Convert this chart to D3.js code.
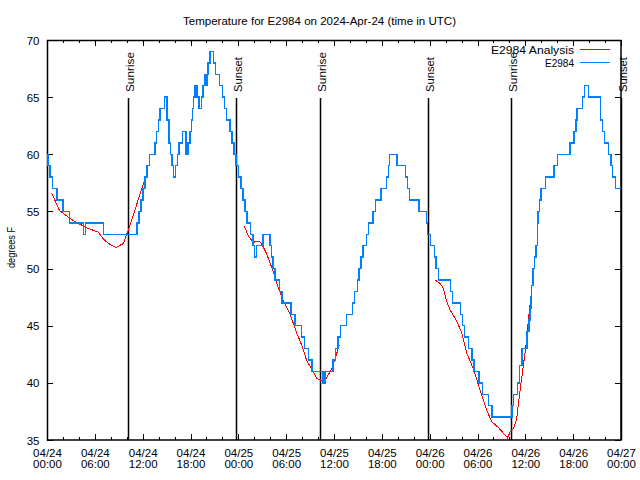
<!DOCTYPE html>
<html><head><meta charset="utf-8">
<script src="https://cdn.jsdelivr.net/npm/d3@7"></script>
<style>
body{margin:0;background:#fff}
text{font-family:"Liberation Sans",Arial,sans-serif;fill:#000}
</style>
</head><body>
<svg id="c" width="640" height="480"></svg>
<script>
// ---------- data ----------
const chartTitle = "Temperature for E2984 on 2024-Apr-24 (time in UTC)";
const yAxisLabel = "degrees F";
const seriesNames = ["E2984 Analysis", "E2984"];
const startTime = "2024-04-24T00:00:00Z";
const spanHours = 72;
const yTicks = [35, 40, 45, 50, 55, 60, 65, 70];

// observed temperature (step data), hours since start
const blueHours = [0,0.15,0.4,0.7,1.25,2.0,2.8,4.55,4.85,7.05,11.3,11.55,11.8,12.05,12.3,12.55,12.85,13.55,13.75,13.95,14.15,14.75,15.05,15.3,15.5,15.7,15.9,16.15,16.35,16.55,17.0,17.45,17.7,17.95,18.1,18.25,18.4,18.55,18.8,19.05,19.35,19.55,19.8,19.95,20.05,20.2,20.45,20.85,21.1,21.6,22.05,22.3,22.5,22.95,23.2,23.45,23.7,24.0,24.35,24.6,24.85,25.1,25.55,25.85,26.05,26.3,27.1,27.95,28.15,28.35,28.6,29.15,29.5,30.6,31.1,31.9,32.3,32.8,33.25,34.6,34.85,35.85,36.2,36.5,36.8,37.6,38.3,38.6,38.95,39.15,39.4,39.65,40.05,40.35,40.9,41.2,41.9,42.55,42.8,42.95,43.9,45.0,45.25,45.45,46.65,47.6,47.75,48.1,48.6,48.8,49.1,50.65,50.85,51.85,52.1,52.4,52.85,53.3,53.55,54.2,54.6,55.4,55.8,58.35,58.55,59.05,59.25,59.6,60.2,60.45,60.6,60.7,60.8,60.95,61.15,61.35,61.5,61.6,61.75,61.95,62.5,63.6,64.0,65.6,66.1,66.35,66.5,67.2,67.45,67.9,69.4,69.7,69.9,70.4,70.75,70.95,71.3,71.95];
const blueTemps = [60,59,58,57,56,55,54,53,54,53,54,55,56,57,58,59,60,61,62,63,64,65,63,61,60,59,58,59,60,61,62,60,61,62,63,64,65,66,65,64,65,66,67,66,67,68,69,68,67,66,65,64,63,62,61,60,59,58,57,56,55,54,53,52,51,52,53,52,51,50,49,48,47,46,45,44,43,42,41,40,41,42,43,44,45,46,47,48,49,50,51,52,53,54,55,56,57,58,59,60,59,58,57,56,55,54,53,52,51,50,49,48,47,46,45,44,43,42,41,40,39,38,37,38,39,40,41.5,43,44.5,45.5,46.5,47.5,48.5,50,51,52,54,55,56,57,58,59,60,61,62,63,64,65,66,65,63,62,61,60,59,58,57,57];

// analysis (smooth) series; null separates segments
const redHours = [0.6,1.55,2.3,3.3,4.35,5.2,6.4,7.05,7.7,8.65,9.6,9.9,10.2,10.85,11.65,12.5,
  12.6,
  24.75,25.3,25.85,26.6,26.9,27.55,28.4,29.0,29.65,30.5,31.3,31.95,32.55,33.2,33.85,34.45,34.75,35.1,35.7,36.15,36.65,
  36.7,
  48.65,49.3,49.7,50.1,50.55,51.4,52.0,52.65,53.5,54.3,55.15,55.8,56.6,57.25,57.75,58.1,58.5,58.9,59.35,59.75,60.1,60.4,60.7];
const redTemps = [56.6,55.1,54.7,54.2,53.8,53.5,53.2,52.6,52.2,51.85,52.2,52.8,53.4,54.7,56.5,58.2,
  null,
  53.7,52.8,52.3,52.4,52.2,51.3,49.7,48.3,47.2,46.0,44.4,43.3,42.0,41.2,40.4,40.2,40.1,40.5,41.2,42.1,43.3,
  null,
  49.0,48.7,48.3,47.2,46.4,45.4,44.4,42.6,41.2,39.4,37.6,36.6,36.1,35.6,35.2,35.7,36.0,36.8,39.4,41.5,43.4,45.6,47.5];

const sunNames = ["Sunrise","Sunset","Sunrise","Sunset","Sunrise","Sunset"];
const sunHours = [10.2, 23.7, 34.25, 47.82, 58.2, 71.95];

// ---------- chart ----------
const L = 47, R = 621, T = 40, B = 440;
const svg = d3.select("#c");
const t0 = new Date(startTime);
const toDate = h => new Date(t0.getTime() + h * 3600e3);

const x = d3.scaleUtc().domain([t0, toDate(spanHours)]).range([L, R]);
const y = d3.scaleLinear().domain([35, 70]).range([B, T]);

const FS = "11.5px";
const crisp = s => s.attr("shape-rendering", "crispEdges");

// title
svg.append("text").attr("x", 319.5).attr("y", 25).attr("text-anchor", "middle")
  .style("font-size", FS).attr("textLength", 273).attr("lengthAdjust", "spacingAndGlyphs")
  .text(chartTitle);

// y label
svg.append("text").attr("transform", "translate(15,247.5) rotate(-90)")
  .attr("text-anchor", "middle").style("font-size", "10px")
  .attr("textLength", 41).attr("lengthAdjust", "spacingAndGlyphs").text(yAxisLabel);

// axes (ticks inward)
const majorTicks = d3.utcHour.every(6).range(t0, toDate(spanHours + 0.01));
const minorTicks = d3.utcHour.every(2).range(t0, toDate(spanHours + 0.01));
const fmtDay = d3.utcFormat("%m/%d"), fmtTime = d3.utcFormat("%H:%M");

const gxMinorB = svg.append("g").attr("transform", `translate(0,${B})`)
  .call(d3.axisBottom(x).tickValues(minorTicks).tickSize(-3).tickFormat(""));
const gxMinorT = svg.append("g").attr("transform", `translate(0,${T})`)
  .call(d3.axisTop(x).tickValues(minorTicks).tickSize(-3).tickFormat(""));
const gxB = svg.append("g").attr("transform", `translate(0,${B})`)
  .call(d3.axisBottom(x).tickValues(majorTicks).tickSize(-6).tickPadding(0).tickFormat(""));
const gxT = svg.append("g").attr("transform", `translate(0,${T})`)
  .call(d3.axisTop(x).tickValues(majorTicks).tickSize(-6).tickFormat(""));
const gyL = svg.append("g").attr("transform", `translate(${L},0)`)
  .call(d3.axisLeft(y).tickValues(yTicks).tickSize(-6).tickPadding(8).tickFormat(d3.format("d")));
const gyR = svg.append("g").attr("transform", `translate(${R},0)`)
  .call(d3.axisRight(y).tickValues(yTicks).tickSize(-6).tickFormat(""));
[gxMinorB, gxMinorT, gxB, gxT, gyL, gyR].forEach(g => {
  g.select(".domain").remove();
  g.selectAll("line").attr("stroke", "#000").attr("stroke-width", 1).call(crisp);
});
gyL.selectAll("text").style("font-size", FS).attr("fill", "#000")
  .attr("font-family", null).attr("x", -7.5).attr("dy", "0.36em");

// x tick labels (two lines)
gxB.selectAll(".tick").each(function(d) {
  const g = d3.select(this);
  g.select("text").remove();
  const t = g.append("text").attr("text-anchor", "middle").style("font-size", FS);
  t.append("tspan").attr("x", 0).attr("y", 16.7).text(fmtDay(d));
  t.append("tspan").attr("x", 0).attr("y", 28.3).text(fmtTime(d));
});

// frame
svg.append("rect").attr("x", L + 0.5).attr("y", T + 0.5).attr("width", R - L - 0.5).attr("height", B - T - 0.5)
  .attr("fill", "none").attr("stroke", "#000").attr("stroke-width", 1.5);

// sunrise / sunset markers
sunHours.forEach((h, i) => {
  const xp = Math.round(x(toDate(h))) + 0.5;
  svg.append("line").attr("x1", xp).attr("x2", xp).attr("y1", B).attr("y2", 98)
    .attr("stroke", "#000").attr("stroke-width", 1.5);
  svg.append("text").attr("transform", `translate(${xp + 5.5},92) rotate(-90)`)
    .style("font-size", FS).attr("textLength", sunNames[i] === "Sunrise" ? 40 : 35)
    .attr("lengthAdjust", "spacingAndGlyphs").text(sunNames[i]);
});

// series
const redData = redHours.map((h, i) => ({ t: toDate(h), v: redTemps[i] }));
const blueData = blueHours.map((h, i) => ({ t: toDate(h), v: blueTemps[i] }));

const redLine = d3.line().defined(d => d.v !== null).x(d => x(d.t)).y(d => y(d.v));
const blueLine = d3.line().x(d => x(d.t)).y(d => y(d.v)).curve(d3.curveStepAfter);

svg.append("path").datum(redData).attr("d", redLine)
  .attr("fill", "none").attr("stroke", "#ff0000").attr("stroke-width", 1).call(crisp);
svg.append("path").datum(blueData).attr("d", blueLine)
  .attr("fill", "none").attr("stroke", "#0080ff").attr("stroke-width", 1.4).call(crisp);

// legend
const legColors = ["#ff0000", "#0080ff"];
const legBase = [54.3, 66.7];
const legLen = [83, 29];
seriesNames.forEach((n, i) => {
  svg.append("text").attr("x", 574).attr("y", legBase[i]).attr("text-anchor", "end")
    .style("font-size", FS).attr("textLength", legLen[i]).attr("lengthAdjust", "spacingAndGlyphs").text(n);
  svg.append("line").attr("x1", 580).attr("x2", 609.5)
    .attr("y1", legBase[i] - 4.5).attr("y2", legBase[i] - 4.5)
    .attr("stroke", legColors[i]).attr("stroke-width", 1.2).call(crisp);
});
</script>
</body></html>
